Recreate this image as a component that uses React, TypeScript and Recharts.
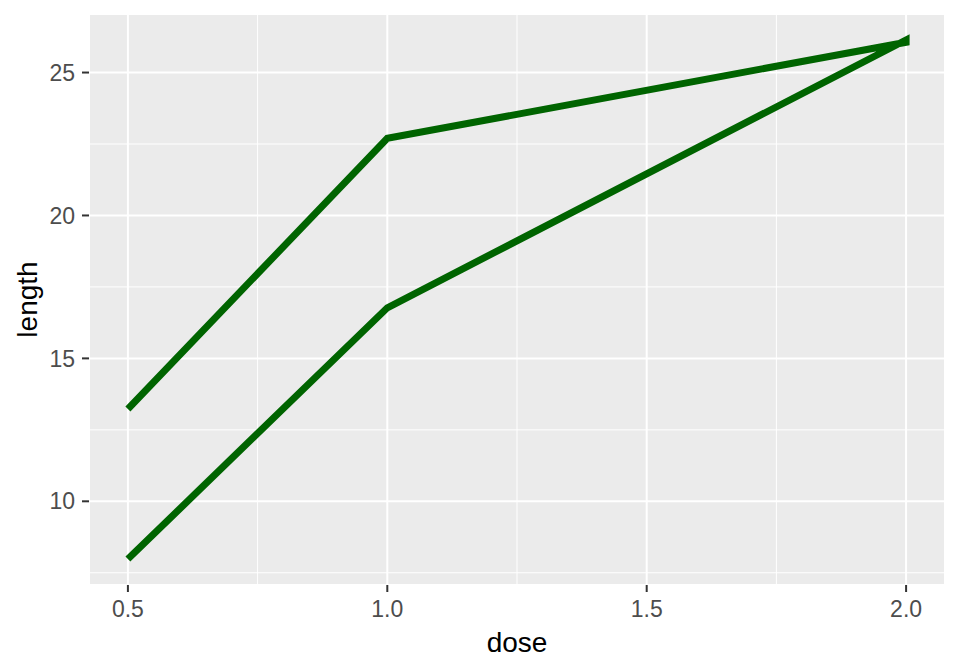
import { LineChart, Line, XAxis, YAxis, CartesianGrid } from "recharts";

// path order: OJ 0.5 -> 2, then VC 2 -> 0.5
const dose = [0.5, 1, 2, 2, 1, 0.5];
const len = [13.23, 22.7, 26.06, 26.14, 16.77, 7.98];

const xTicks = [0.5, 1, 1.5, 2];
const xMinor = [0.75, 1.25, 1.75];
const yTicks = [10, 15, 20, 25];
const yMinor = [7.5, 12.5, 17.5, 22.5];

const data = dose.map((d, i) => ({ dose: d, len: len[i] }));

const font = "'Liberation Sans', Arial, sans-serif";
const tickStyle = { fill: "#4d4d4d", fontSize: 23, fontFamily: font };

// rotated y title, centred on the panel
function YTitle(props: any) {
  const vb = props.viewBox || {};
  const cx = (vb.x ?? 0) + 27;
  const cy = (vb.y ?? 0) + (vb.height ?? 0) / 2;
  return (
    <text
      x={cx}
      y={cy}
      transform={`rotate(-90 ${cx} ${cy})`}
      textAnchor="middle"
      dominantBaseline="central"
      fill="#000"
      fontSize={28}
      fontFamily={font}
    >
      length
    </text>
  );
}

export default function App() {
  return (
    <div style={{ position: "absolute", left: 0, top: 0, fontFamily: font }}>
      <LineChart
        width={960}
        height={672}
        data={data}
        margin={{ top: 14, right: 15, left: 0, bottom: 0 }}
      >
        <XAxis
          dataKey="dose"
          type="number"
          domain={[0.425, 2.075]}
          ticks={xTicks}
          tickFormatter={(v: number) => v.toFixed(1)}
          allowDataOverflow
          height={87}
          axisLine={false}
          tickLine={{ stroke: "#333333", strokeWidth: 2 }}
          tickSize={7}
          tickMargin={9}
          tick={tickStyle}
          label={{ value: "dose", position: "insideBottom", offset: 20, fill: "#000", fontSize: 28, fontFamily: font }}
        />
        <XAxis
          xAxisId="minor"
          dataKey="dose"
          type="number"
          domain={[0.425, 2.075]}
          ticks={xMinor}
          allowDataOverflow
          hide
        />
        <YAxis
          dataKey="len"
          type="number"
          domain={[7.072, 27.048]}
          ticks={yTicks}
          allowDataOverflow
          width={89}
          axisLine={false}
          tickLine={{ stroke: "#333333", strokeWidth: 2 }}
          tickSize={7}
          tickMargin={7}
          tick={tickStyle}
          label={{ value: "length", content: YTitle }}
        />
        <YAxis
          yAxisId="minor"
          dataKey="len"
          type="number"
          domain={[7.072, 27.048]}
          ticks={yMinor}
          allowDataOverflow
          hide
        />
        <CartesianGrid xAxisId="minor" yAxisId="minor" fill="#EBEBEB" fillOpacity={1} stroke="#ffffff" strokeWidth={1} />
        <CartesianGrid stroke="#ffffff" strokeWidth={2} />
        <Line
          dataKey="len"
          type="linear"
          stroke="#006400"
          strokeWidth={7}
          dot={false}
          activeDot={false}
          isAnimationActive={false}
        />
      </LineChart>
    </div>
  );
}
